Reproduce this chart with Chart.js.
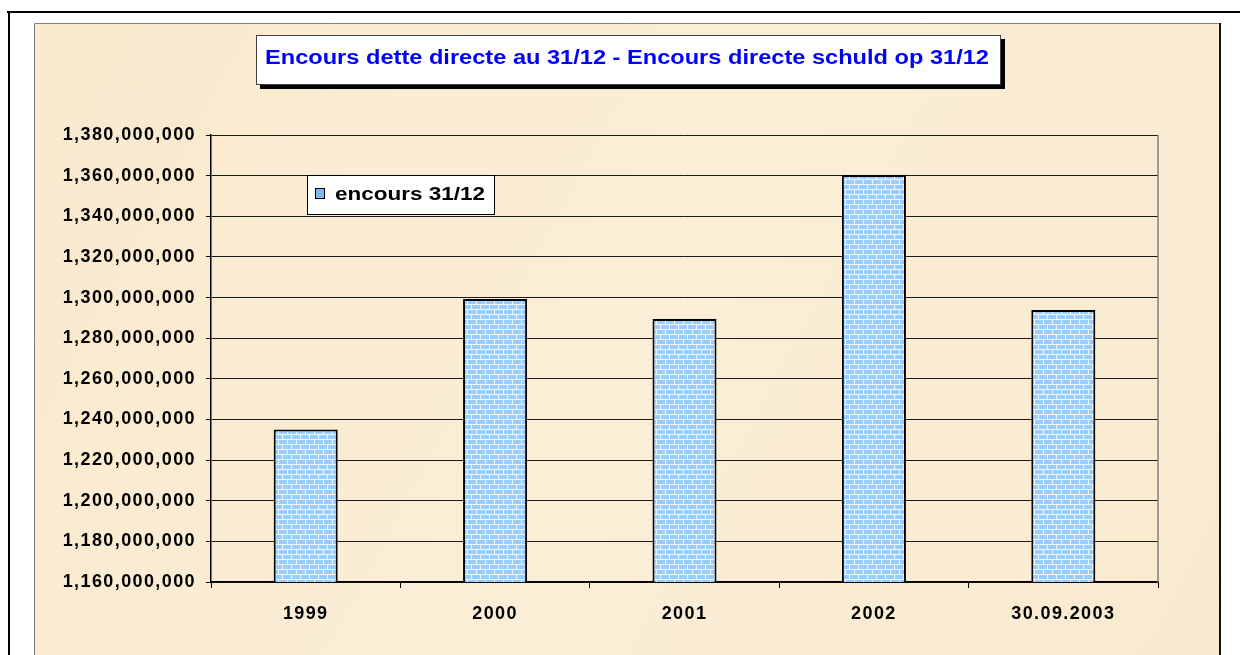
<!DOCTYPE html>
<html><head><meta charset="utf-8">
<script src="https://cdn.jsdelivr.net/npm/chart.js@4"></script>
<style>html,body{margin:0;padding:0;background:#fff;overflow:hidden}#wrap{width:1240px;height:655px;position:relative}</style>
</head><body><div id="wrap"><canvas id="c" width="1240" height="655"></canvas></div>
<script>
const categories = ['1999', '2000', '2001', '2002', '30.09.2003'];
const encours = [1235000000, 1299300000, 1289400000, 1360300000, 1293900000];
const seriesLabel = 'encours 31/12';
const titleText = 'Encours dette directe au 31/12 - Encours directe schuld op 31/12';
const yMin = 1160000000;
const yMax = 1380000000;
const yStep = 20000000;

const FONT = "'Liberation Sans', Arial, Helvetica, sans-serif";

function makeBrickPattern(ctx) {
  const pc = document.createElement('canvas');
  pc.width = 9; pc.height = 10;
  const p = pc.getContext('2d');
  p.fillStyle = '#EEF6FF';
  p.fillRect(0, 0, 9, 10);
  p.fillStyle = '#99CCFF';
  p.fillRect(0, 0, 8, 4);
  p.fillRect(0, 5, 3, 4);
  p.fillRect(4, 5, 5, 4);
  return ctx.createPattern(pc, 'repeat');
}

const canvas = document.getElementById('c');
const ctx0 = canvas.getContext('2d');
const brick = makeBrickPattern(ctx0);

function stretchedText(ctx, text, x, y, sx, align) {
  ctx.save();
  try { ctx.letterSpacing = '0px'; } catch (e) {}
  ctx.translate(x, y);
  ctx.scale(sx, 1);
  ctx.textAlign = align;
  ctx.textBaseline = 'middle';
  ctx.fillText(text, 0, 0);
  ctx.restore();
}

const decoPlugin = {
  id: 'deco',
  beforeDraw(chart) {
    const ctx = chart.ctx;
    try { ctx.letterSpacing = '1.4px'; } catch (e) {}
    ctx.save();
    ctx.fillStyle = '#ffffff';
    ctx.fillRect(0, 0, 1240, 655);
    // beige panel
    const g = ctx.createLinearGradient(34, 23, 1220, 655);
    g.addColorStop(0, '#F9E9CD');
    g.addColorStop(0.5, '#FBEED7');
    g.addColorStop(1, '#F9EACF');
    ctx.fillStyle = g;
    ctx.fillRect(34, 23, 1186, 640);
    ctx.strokeStyle = '#808080';
    ctx.lineWidth = 1;
    ctx.beginPath();
    ctx.moveTo(34.5, 655); ctx.lineTo(34.5, 23.5); ctx.lineTo(1219, 23.5);
    ctx.stroke();
    ctx.fillStyle = '#111';
    ctx.fillRect(1219, 23, 2, 640);
    // outer frame
    ctx.fillStyle = '#000';
    ctx.fillRect(7, 11, 1233, 2);
    ctx.fillRect(8, 11, 2, 644);
    // title box
    ctx.fillStyle = '#000';
    ctx.fillRect(260, 39, 745, 50);
    ctx.fillStyle = '#fff';
    ctx.fillRect(256, 35, 745, 50);
    ctx.strokeStyle = '#404040';
    ctx.strokeRect(256.5, 35.5, 744, 49);
    ctx.fillStyle = '#0000FF';
    ctx.font = 'bold 20px ' + FONT;
    stretchedText(ctx, titleText, 627, 58, 1.18, 'center');
    ctx.restore();
  },
  afterDraw(chart) {
    const ctx = chart.ctx;
    const a = chart.chartArea;
    ctx.save();
    // right border of plot
    ctx.strokeStyle = '#808080';
    ctx.lineWidth = 1.5;
    ctx.beginPath();
    ctx.moveTo(a.right, a.top); ctx.lineTo(a.right, a.bottom);
    ctx.stroke();
    // legend box
    ctx.fillStyle = '#fff';
    ctx.fillRect(307, 175, 187, 39);
    ctx.strokeStyle = '#000';
    ctx.lineWidth = 1;
    ctx.strokeRect(307.5, 175.5, 187, 39);
    ctx.fillStyle = '#7FB8F0';
    ctx.fillRect(315, 188, 9, 10);
    ctx.strokeStyle = '#000';
    ctx.strokeRect(315.5, 188.5, 9, 10);
    ctx.fillStyle = '#000';
    ctx.font = 'bold 18px ' + FONT;
    stretchedText(ctx, chart.data.datasets[0].label, 335, 195, 1.25, 'left');
    ctx.restore();
  }
};

new Chart(canvas, {
  type: 'bar',
  data: {
    labels: categories,
    datasets: [{
      label: seriesLabel,
      data: encours,
      backgroundColor: brick,
      borderColor: '#000',
      borderWidth: 2,
      borderSkipped: false,
      barPercentage: 0.338,
      categoryPercentage: 1
    }]
  },
  options: {
    responsive: false,
    devicePixelRatio: 1,
    animation: false,
    layout: { padding: { left: 0, top: 135, right: 82, bottom: 0 } },
    plugins: {
      legend: { display: false },
      title: { display: false },
      tooltip: { enabled: false }
    },
    scales: {
      x: {
        offset: true,
        grid: { display: true, offset: true, drawOnChartArea: false, color: '#000', tickLength: 6, tickColor: '#000' },
        border: { display: true, color: '#000', width: 1.5 },
        ticks: { color: '#000', font: { family: FONT, size: 18, weight: 'bold' }, padding: 15, maxRotation: 0, autoSkip: false },
        afterFit(s) { s.height = 73; }
      },
      y: {
        min: yMin,
        max: yMax,
        grid: { color: '#1a1a1a', lineWidth: 1, tickLength: 5, tickColor: '#000' },
        border: { display: true, color: '#000', width: 1.5 },
        ticks: {
          stepSize: yStep,
          color: '#000',
          padding: 10,
          font: { family: FONT, size: 18, weight: 'bold' },
          callback: v => Number(v).toLocaleString('en-US')
        },
        afterFit(s) { s.width = 211; }
      }
    }
  },
  plugins: [decoPlugin]
});
</script>
</body></html>
